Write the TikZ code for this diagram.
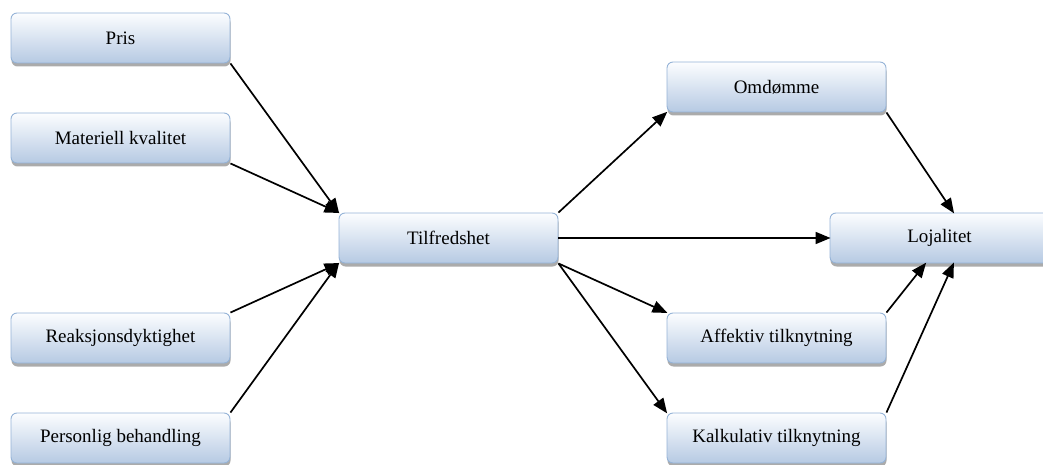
\documentclass[tikz,border=0pt]{standalone}
\usepackage{fontspec}
\setmainfont{Liberation Serif}
\usetikzlibrary{arrows.meta,shadows,calc}
\definecolor{boxtop}{RGB}{252,253,255}
\definecolor{boxbot}{RGB}{182,202,227}
\definecolor{boxline}{RGB}{149,179,215}
\tikzset{
  factor/.style={draw=boxline, line width=0.9pt, rounded corners=6pt,
    top color=boxtop, bottom color=boxbot,
    minimum width=219pt, minimum height=50pt, inner sep=0pt,
    font=\fontsize{19}{22}\selectfont,
    drop shadow={shadow xshift=0.5pt, shadow yshift=-3.5pt, fill=black!60, opacity=0.55}},
  link/.style={line width=1.7pt, -{Triangle[length=15pt,width=12pt]}, shorten >=-1pt}
}
\begin{document}
\begin{tikzpicture}[x=1pt,y=-1pt]
\useasboundingbox (0,0) rectangle (1043,465);
\node[factor] (pris) at (120.5,38) {Pris};
\node[factor] (mat) at (120.5,138) {Materiell kvalitet};
\node[factor] (reak) at (120.5,338) {Reaksjonsdyktighet};
\node[factor] (pers) at (120.5,438) {Personlig behandling};
\node[factor] (tilf) at (448.5,238) {Tilfredshet};
\node[factor] (omd) at (776.5,87) {Omdømme};
\node[factor] (loj) at (939.5,238) {Lojalitet};
\node[factor] (aff) at (776.5,338) {Affektiv tilknytning};
\node[factor] (kalk) at (776.5,438) {Kalkulativ tilknytning};
\draw[link] (pris.south east) -- (tilf.north west);
\draw[link] (mat.south east) -- (tilf.north west);
\draw[link] (reak.north east) -- (tilf.south west);
\draw[link] (pers.north east) -- (tilf.south west);
\draw[link] (tilf.north east) -- (omd.south west);
\draw[link] (tilf.east) -- (loj.west);
\draw[link] (tilf.south east) -- (aff.north west);
\draw[link] (tilf.south east) -- (kalk.north west);
\draw[link] (omd.south east) -- ([xshift=14pt]loj.north);
\draw[link] (aff.north east) -- ([xshift=-14pt]loj.south);
\draw[link] (kalk.north east) -- ([xshift=14pt]loj.south);
\end{tikzpicture}
\end{document}
